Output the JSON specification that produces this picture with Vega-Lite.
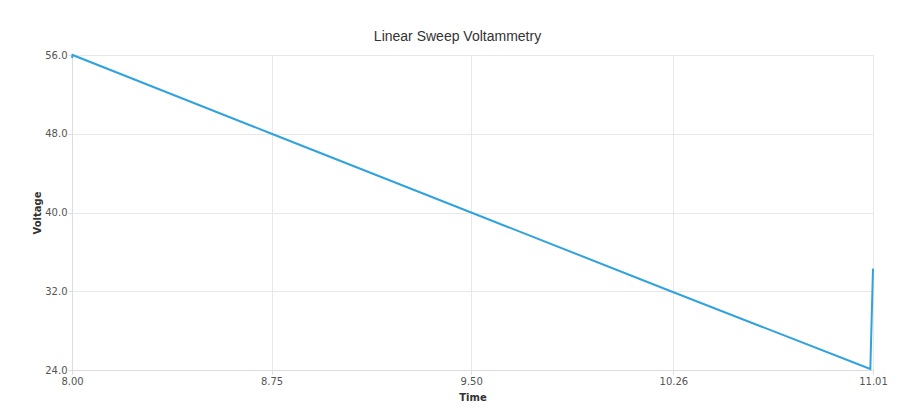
{
  "$schema": "https://vega.github.io/schema/vega-lite/v6.json",
  "width": 801,
  "height": 315,
  "autosize": {"type": "none"},
  "padding": {"left": 72, "top": 55, "right": 34, "bottom": 46},
  "background": "white",
  "title": {
    "text": "Linear Sweep Voltammetry",
    "font": "Liberation Sans",
    "fontSize": 14,
    "fontWeight": "normal",
    "color": "#333333",
    "anchor": "middle",
    "offset": 6,
    "dx": -15
  },
  "config": {
    "view": {"stroke": "#e6e6e6", "strokeWidth": 1},
    "axis": {
      "labelFont": "DejaVu Sans",
      "labelFontSize": 10,
      "labelColor": "#555555",
      "titleFont": "DejaVu Sans",
      "titleFontSize": 10,
      "titleFontWeight": "bold",
      "titleColor": "#333333",
      "gridColor": "#e8e8e8",
      "domainColor": "#dddddd",
      "tickColor": "#dddddd",
      "tickSize": 4
    }
  },
  "data": {
    "values": [
      {"time": 8.0, "voltage": 55.7},
      {"time": 8.002, "voltage": 56.0},
      {"time": 8.75, "voltage": 48.0},
      {"time": 9.5, "voltage": 40.0},
      {"time": 10.26, "voltage": 31.9},
      {"time": 11.0, "voltage": 24.1},
      {"time": 11.01, "voltage": 34.3}
    ]
  },
  "mark": {"type": "line", "color": "#30a3de", "strokeWidth": 2, "clip": false},
  "encoding": {
    "x": {
      "field": "time",
      "type": "quantitative",
      "title": "Time",
      "scale": {"domain": [8.0, 11.01], "nice": false, "zero": false},
      "axis": {"values": [8.0, 8.75, 9.5, 10.26, 11.01], "format": ".2f", "labelPadding": 2, "titlePadding": 6, "labelFlush": false}
    },
    "y": {
      "field": "voltage",
      "type": "quantitative",
      "title": "Voltage",
      "scale": {"domain": [24, 56], "nice": false, "zero": false},
      "axis": {"values": [24, 32, 40, 48, 56], "format": ".1f", "labelPadding": 1, "titlePadding": 2, "labelFlush": false}
    }
  }
}
